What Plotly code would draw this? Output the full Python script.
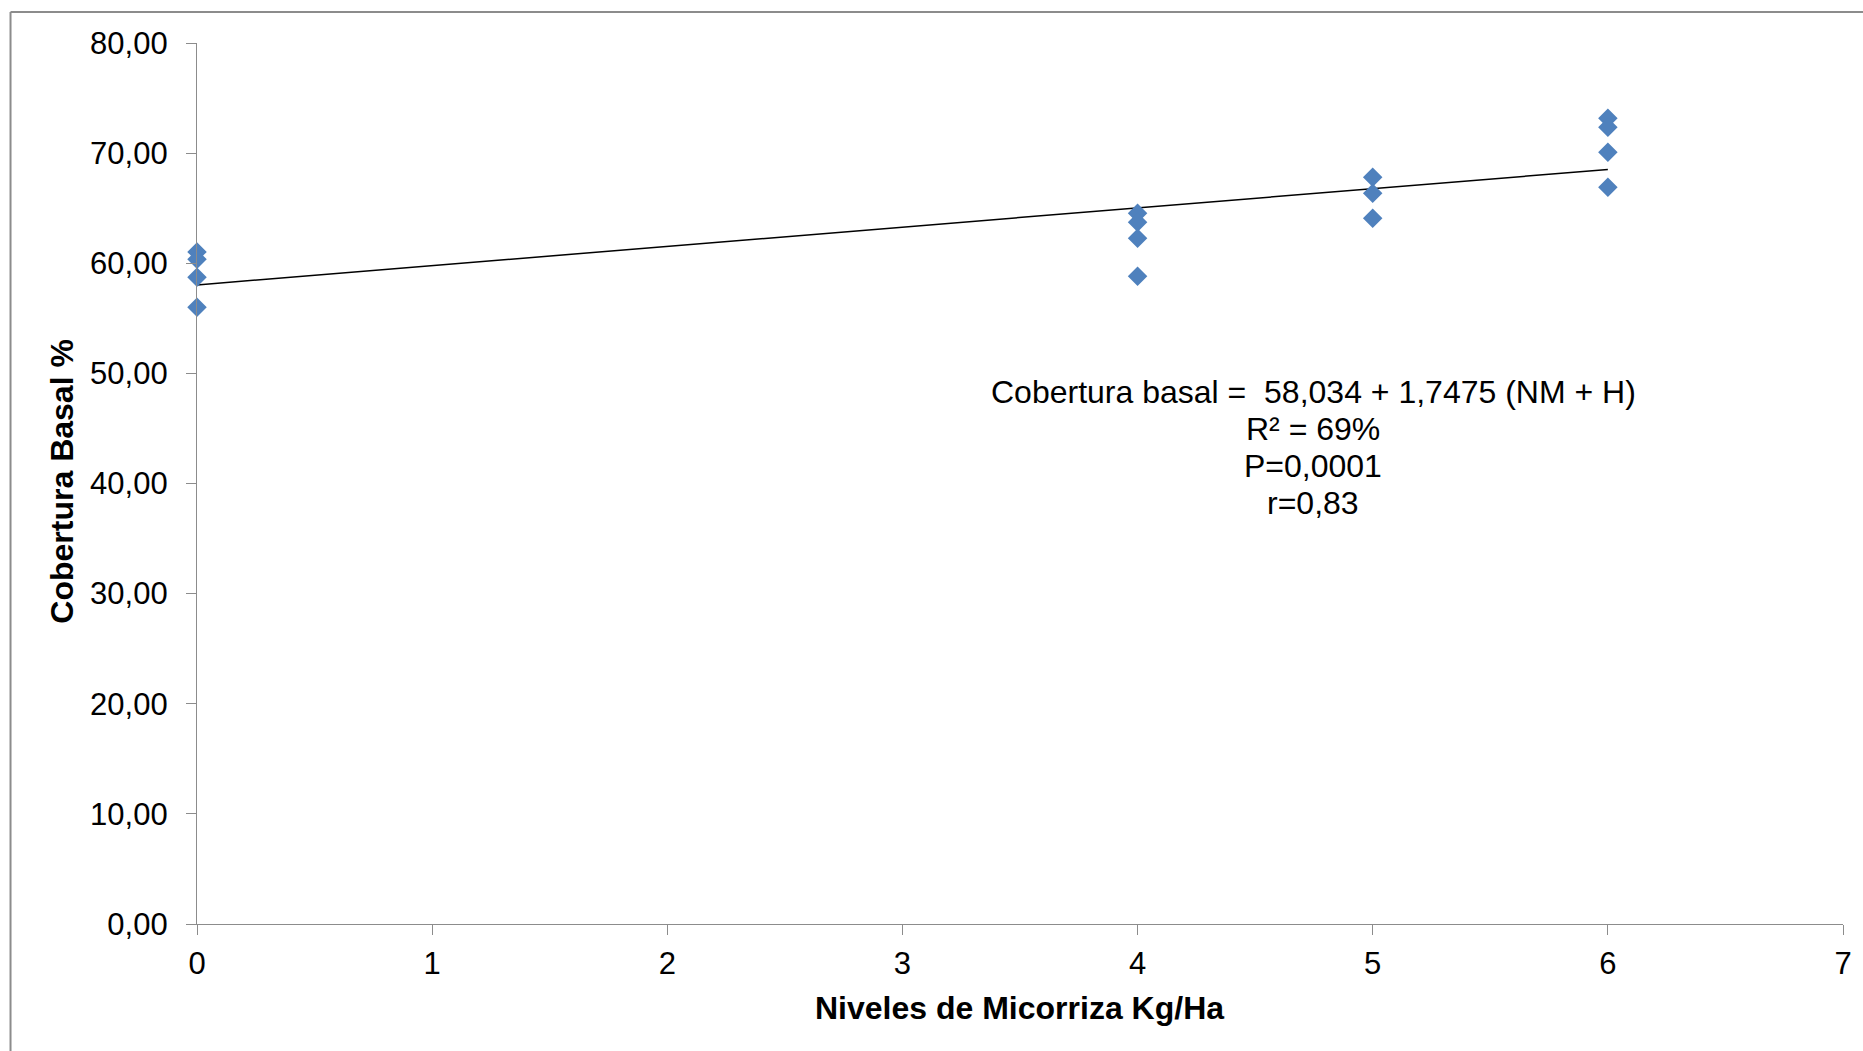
import plotly.graph_objects as go

niveles = [0, 0, 0, 0, 4, 4, 4, 4, 5, 5, 5, 6, 6, 6, 6]
cobertura = [61.03, 60.36, 58.73, 56.01,
             64.55, 63.73, 62.28, 58.82,
             67.80, 66.35, 64.08,
             73.17, 72.36, 70.09, 66.90]

intercepto = 58.034
pendiente = 1.7475
x_linea = [0, 6]
y_linea = [intercepto + pendiente * v for v in x_linea]

x_ticks = [0, 1, 2, 3, 4, 5, 6, 7]
y_ticks = [0, 10, 20, 30, 40, 50, 60, 70, 80]

lineas_ecuacion = ["Cobertura basal =  58,034 + 1,7475 (NM + H)", "R² = 69%",
                   "P=0,0001", "r=0,83"]

W, H = 1863, 1051
L, R, T, B = 196.5, 20.3, 43, 127.3
pw, ph = W - L - R, H - T - B

fig = go.Figure()
fig.add_trace(go.Scatter(x=x_linea, y=y_linea, mode="lines",
                         line=dict(color="black", width=1.5), showlegend=False))
fig.add_trace(go.Scatter(x=niveles, y=cobertura, mode="markers",
                         marker=dict(symbol="diamond", size=15, color="#4F81BD",
                                     line=dict(width=0)), showlegend=False,
                         cliponaxis=False))

fnt = "Liberation Sans, Arial, sans-serif"
axis_common = dict(showgrid=False, zeroline=False, showline=True,
                   linecolor="#8c8c8c", linewidth=1.3, ticks="outside",
                   ticklen=10, tickcolor="#8c8c8c", tickwidth=1.3,
                   tickfont=dict(family=fnt, size=31, color="black"))

fig.update_xaxes(range=[0, 7], tickvals=x_ticks, ticklabelstandoff=2, **axis_common)
fig.update_yaxes(range=[0, 80], tickvals=y_ticks, tickformat=".2f",
                 ticklabelstandoff=12, **axis_common)

fx = lambda px: (px - L) / pw
fy = lambda py: 1 - (py - T) / ph

for i, linea in enumerate(lineas_ecuacion):
    fig.add_annotation(x=fx(1313), y=fy(392 + 36.8 * i), xref="paper", yref="paper",
                       xanchor="center", yanchor="middle",
                       text=linea, showarrow=False, align="center",
                       font=dict(family=fnt, size=32, color="black"))
fig.add_annotation(x=fx(1019), y=fy(1008), xref="paper", yref="paper",
                   xanchor="center", yanchor="middle",
                   text="<b>Niveles de Micorriza Kg/Ha</b>", showarrow=False,
                   font=dict(family=fnt, size=32, color="black"))
fig.add_annotation(x=fx(62), y=fy(481), xref="paper", yref="paper",
                   xanchor="center", yanchor="middle",
                   text="<b>Cobertura Basal %</b>", showarrow=False, textangle=-90,
                   font=dict(family=fnt, size=32, color="black"))

fig.add_shape(type="line", xref="paper", yref="paper", x0=fx(10), y0=fy(12),
              x1=fx(1900), y1=fy(12), line=dict(color="#8c8c8c", width=2))
fig.add_shape(type="line", xref="paper", yref="paper", x0=fx(10), y0=fy(12),
              x1=fx(10), y1=fy(1100), line=dict(color="#8c8c8c", width=2))

fig.update_layout(width=W, height=H, separators=",.",
                  margin=dict(l=L, r=R, t=T, b=B, autoexpand=False),
                  plot_bgcolor="white", paper_bgcolor="white",
                  font=dict(family=fnt, size=31, color="black"))

fig.write_html("out.html")
